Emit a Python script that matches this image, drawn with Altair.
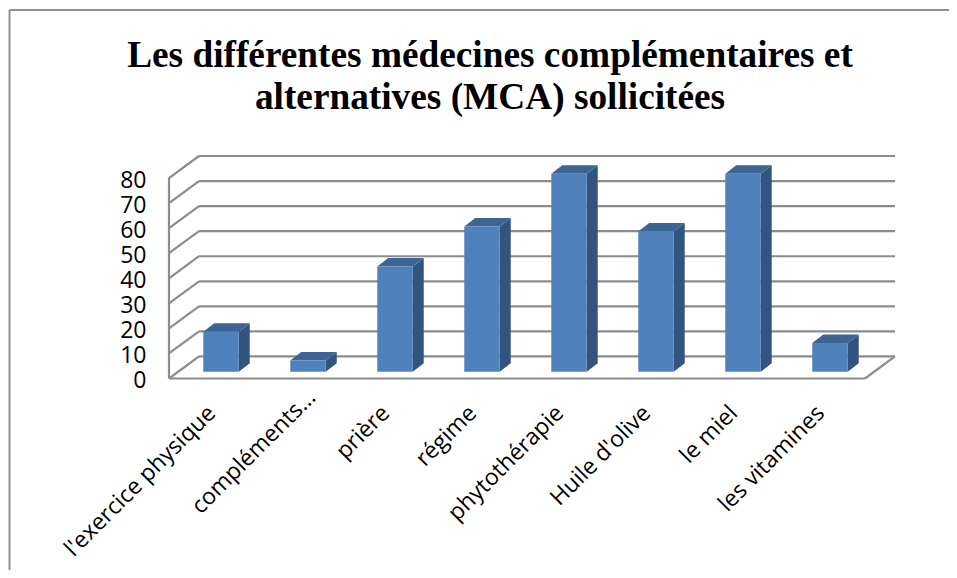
import altair as alt
import pandas as pd

title_lines = ["Les différentes médecines complémentaires et", "alternatives (MCA) sollicitées"]
categories = ["l'exercice physique", "compléments…", "prière", "régime",
              "phytothérapie", "Huile d'olive", "le miel", "les vitamines"]
values = [16, 4.5, 42, 58, 79, 56, 79, 11.5]
ticks = [0, 10, 20, 30, 40, 50, 60, 70, 80]

# 3D projection constants (in data units)
WALL_DX, WALL_DY = 0.345, 8.8
BAR_X0, BAR_W, BAR_DX, BAR_DY, BAR_BASE = 0.394, 0.408, 0.126, 3.4, 2.7
N = len(categories)
LABEL_X, LABEL_Y = 0.4925, -12.4
TRUNCATED_NUDGE_X, TRUNCATED_NUDGE_Y = 0.15, 6.3  # the truncated label sits higher

# Value axis sits at the left edge of the plot group; every layer shares it
y_axis = alt.Axis(values=ticks, domain=False, ticks=False, grid=False, title=None,
                  labelPadding=0, labelOffset=2, labelFont="Open Sans", labelFontSize=23,
                  labelColor="black", labelOverlap=False)

xs = alt.Scale(domain=[0, N + WALL_DX], range=[23, 749], nice=False, zero=False)
ys = alt.Scale(domain=[0, 80 + WALL_DY], range=[248.5, 26], nice=False, zero=False)
X = lambda f="x": alt.X(f, type="quantitative", scale=xs, axis=None)
Y = lambda f="y": alt.Y(f, type="quantitative", scale=ys, axis=y_axis)

GRID = "#8c8c8c"

# Walls
seg = []
for t in ticks:
    seg.append(dict(x=0, x2=WALL_DX, y=t, y2=t + WALL_DY))
    seg.append(dict(x=WALL_DX, x2=N + WALL_DX, y=t + WALL_DY, y2=t + WALL_DY))
seg.append(dict(x=0, x2=0, y=0, y2=80))
seg.append(dict(x=0, x2=N, y=0, y2=0))
seg.append(dict(x=N, x2=N + WALL_DX, y=0, y2=WALL_DY))
grid = alt.Chart(pd.DataFrame(seg)).mark_rule(color=GRID, strokeWidth=2.2).encode(
    x=X(), x2="x2:Q", y=Y(), y2="y2:Q")

# Bars
front, side, top = [], [], []
for i, (c, v) in enumerate(zip(categories, values)):
    l = i + BAR_X0
    r = l + BAR_W
    b = BAR_BASE
    t = BAR_BASE + v
    front.append(dict(c=c, x=l, x2=r, y=b, y2=t))
    side += [dict(c=c, x=r, y=b, y2=t), dict(c=c, x=r + BAR_DX, y=b + BAR_DY, y2=t + BAR_DY)]
    top += [dict(c=c, x=l, y=t, y2=t),
            dict(c=c, x=l + BAR_DX, y=t, y2=t + BAR_DY),
            dict(c=c, x=r, y=t, y2=t + BAR_DY),
            dict(c=c, x=r + BAR_DX, y=t + BAR_DY, y2=t + BAR_DY)]

side_l = alt.Chart(pd.DataFrame(side)).mark_area(color="#31557f", interpolate="linear").encode(
    x=X(), y=Y(), y2="y2:Q", detail="c:N")
top_l = alt.Chart(pd.DataFrame(top)).mark_area(color="#3c6494", interpolate="linear").encode(
    x=X(), y=Y(), y2="y2:Q", detail="c:N")
front_l = alt.Chart(pd.DataFrame(front)).mark_rect(color="#4f81bd").encode(
    x=X(), x2="x2:Q", y=Y(), y2="y2:Q")

# Category labels
lab_rows = []
for i, c in enumerate(categories):
    nudge = c.endswith("…")
    lab_rows.append(dict(c=c,
                         x=i + LABEL_X + (TRUNCATED_NUDGE_X if nudge else 0),
                         y=LABEL_Y + (TRUNCATED_NUDGE_Y if nudge else 0)))
labels = alt.Chart(pd.DataFrame(lab_rows)).mark_text(
    font="Open Sans", fontSize=23, angle=315, align="right",
    baseline="middle", color="black").encode(x=X(), y=Y(), text="c:N")

# Outer frame
frame_t = alt.Chart(pd.DataFrame({"a": [0]})).mark_rule(color="#8f8f8f", strokeWidth=2).encode(
    x=alt.value(-136.5), x2=alt.value(803), y=alt.value(-120))
frame_l = alt.Chart(pd.DataFrame({"a": [0]})).mark_rule(color="#8f8f8f", strokeWidth=2).encode(
    x=alt.value(-136.5), y=alt.value(-120), y2=alt.value(440))

chart = alt.layer(frame_t, frame_l, grid, side_l, top_l, front_l, labels).properties(
    width=803, height=440,
    padding={"left": 138, "top": 122, "right": 0, "bottom": 0},
    autosize=alt.AutoSizeParams(type="none"),
    background="white",
    title=alt.TitleParams(text=title_lines, font="Liberation Serif", fontWeight="bold",
                          fontSize=37.3, lineHeight=42, color="black", anchor="middle",
                          frame="group", dx=-57.5, offset=-108),
).configure_view(stroke=None)

chart.save("out.html", embed_options={"renderer": "svg", "actions": False})
